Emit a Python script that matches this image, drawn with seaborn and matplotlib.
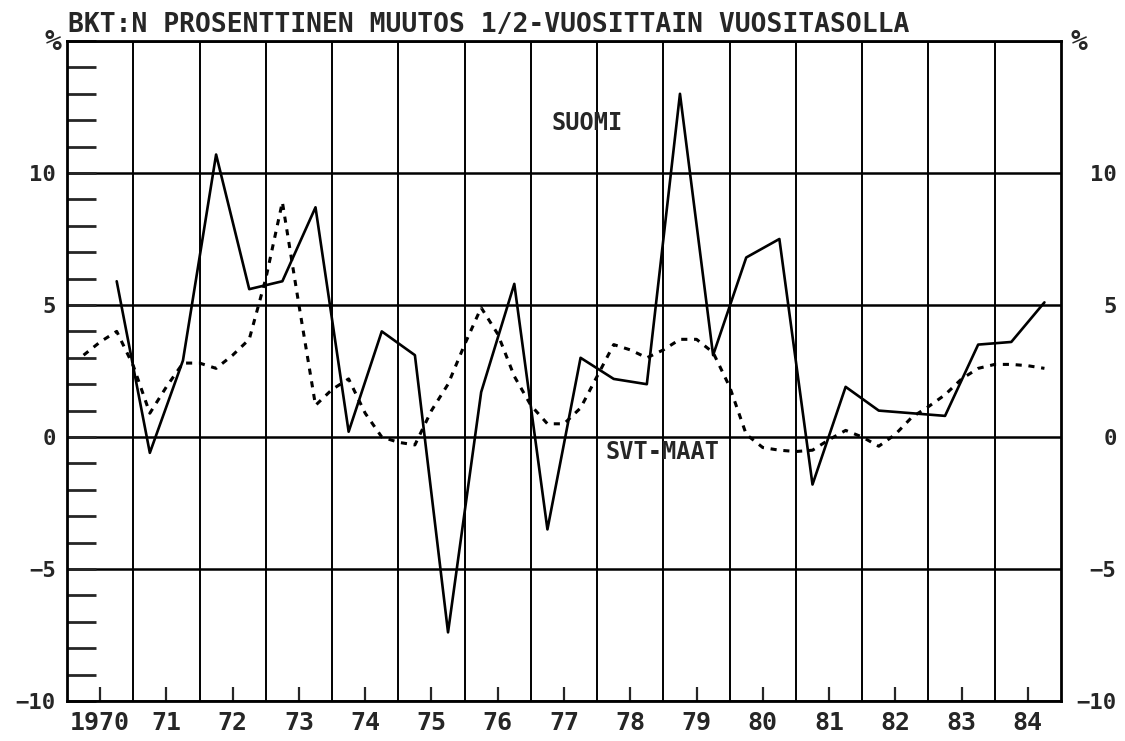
import numpy as np
import pandas as pd
import seaborn as sns
import matplotlib.pyplot as plt
from matplotlib.ticker import FixedLocator, MultipleLocator

# half-yearly change, Finland (solid line)
suomi_t = np.arange(1970.75, 1985, 0.5)
suomi = [5.9, -0.6, 2.9, 10.7, 5.6, 5.9, 8.7, 0.2, 4.0, 3.1,
         -7.4, 1.7, 5.8, -3.5, 3.0, 2.2, 2.0, 13.0, 3.1, 6.8,
         7.5, -1.8, 1.9, 1.0, 0.9, 0.8, 3.5, 3.6, 5.1]

# OECD countries (dotted line)
svt_t = np.arange(1970.25, 1985, 0.25)
svt = [3.1, 3.6, 4.0,
       2.7, 0.9, 1.9, 2.8,
       2.8, 2.6, 3.1, 3.7,
       6.0, 8.9, 5.0, 1.2,
       1.8, 2.2, 0.9, 0.0,
       -0.2, -0.3, 1.0, 2.0,
       3.5, 4.9, 3.9, 2.3,
       1.2, 0.5, 0.5, 1.1,
       2.3, 3.5, 3.3, 3.0,
       3.3, 3.7, 3.7, 3.2,
       1.9, 0.1, -0.4, -0.5,
       -0.55, -0.5, -0.1, 0.25,
       0.0, -0.35, 0.1, 0.75,
       1.15, 1.6, 2.2, 2.6,
       2.75, 2.75, 2.7, 2.6]

years = list(range(1970, 1985))
year_labels = ['1970', '71', '72', '73', '74', '75', '76', '77',
               '78', '79', '80', '81', '82', '83', '84']
y_major = [-10, -5, 0, 5, 10, 15]
y_labels = ['\u221210', '\u22125', '0', '5', '10', '']

sns.set_style('white')
plt.rcParams['font.family'] = ['DejaVu Sans Mono']
plt.rcParams['font.weight'] = 'bold'

fig = plt.figure(figsize=(11.25, 7.41), dpi=100)
ax = fig.add_axes([67/1125, 1-701/741, (1061-67)/1125, (701-41)/741])

sns.lineplot(x=suomi_t, y=suomi, color='black', linewidth=1.9, ax=ax)
sns.lineplot(x=svt_t, y=svt, color='black', linewidth=2.2,
             linestyle=(0, (2.0, 2.2)), ax=ax)

ax.set_xlim(1970, 1985)
ax.set_ylim(-10, 15)

# x: labels in the middle of each year, grid at year boundaries
ax.xaxis.set_major_locator(FixedLocator([y + 0.5 for y in years]))
ax.set_xticklabels(year_labels, fontsize=18)
ax.xaxis.set_minor_locator(FixedLocator(years[1:]))
ax.tick_params(axis='x', which='major', direction='in', length=10, width=1.6,
               bottom=True, top=False, pad=7)
ax.tick_params(axis='x', which='minor', length=0)
ax.grid(which='minor', axis='x', color='black', linewidth=1.4)

# y: tick every unit on both sides, grid every 5
ax.yaxis.set_major_locator(FixedLocator(y_major))
ax.set_yticklabels(y_labels, fontsize=16)
ax.yaxis.set_minor_locator(MultipleLocator(1))
ax.tick_params(axis='y', which='both', direction='in', length=21, width=2,
               left=True, right=True, labelleft=True, labelright=False, pad=8)
ax.grid(which='major', axis='y', color='black', linewidth=1.8)

# right-hand labels, right aligned like the original
ax2 = ax.twinx()
ax2.set_ylim(-10, 15)
ax2.yaxis.set_major_locator(FixedLocator(y_major))
ax2.set_yticklabels(y_labels, fontsize=16, ha='right')
ax2.tick_params(axis='y', length=0, pad=40)
for s in ax2.spines.values():
    s.set_visible(False)

for s in ax.spines.values():
    s.set_linewidth(2)
    s.set_color('black')

ax.text(1977.85, 11.9, 'SUOMI', fontsize=17, ha='center', va='center')
ax.text(1978.98, -0.55, 'SVT-MAAT', fontsize=17, ha='center', va='center')

fig.text(68/1125, 1-32/741, 'BKT:N PROSENTTINEN MUUTOS 1/2-VUOSITTAIN VUOSITASOLLA',
         fontsize=19, ha='left', va='baseline')
fig.text(53/1125, 1-42/741, '%', fontsize=20, ha='center', va='center')
fig.text(1079/1125, 1-42/741, '%', fontsize=20, ha='center', va='center')

fig.savefig('out.png', dpi=100)
